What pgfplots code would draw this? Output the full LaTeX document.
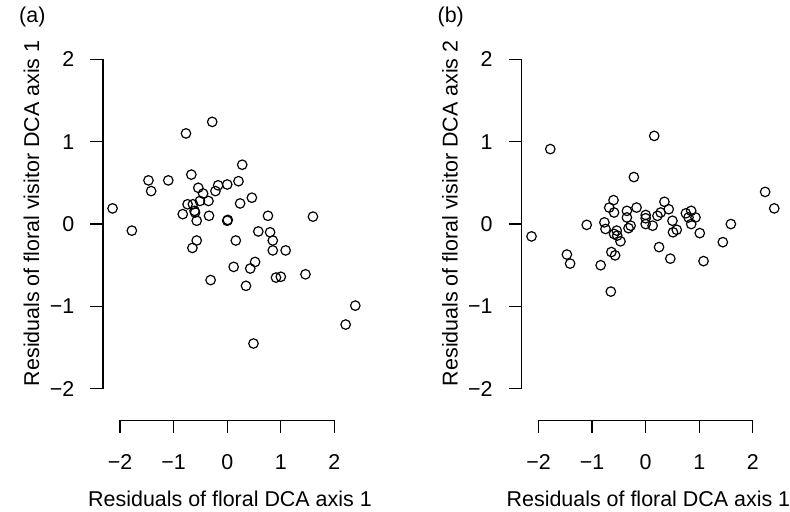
\documentclass[border=0pt]{standalone}
\usepackage{pgfplots}
\pgfplotsset{compat=1.18}
\usepackage{fontspec}
\setmainfont{Liberation Sans}
\begin{document}
\fontsize{10.8pt}{12.5pt}\selectfont
\pgfplotsset{
  rpanel/.style={
    scale only axis,
    width=132pt, height=208.35pt,
    xmin=-2.32, xmax=2.57, ymin=-2.38, ymax=2.64,
    axis x line*=bottom, axis y line*=left,
    axis line style={draw=none},
    tick align=outside,
    major tick length=6.35pt,
    tick style={black, line width=0.6pt},
    xtick={-2,-1,0,1,2}, ytick={-2,-1,0,1,2},
    xticklabels={−2,−1,0,1,2}, yticklabels={−2,−1,0,1,2},
    xticklabel style={yshift=-7.3pt},
    yticklabel style={xshift=-4.3pt},
    xlabel style={at={(axis description cs:0.485,-0.1913)}, anchor=center},
    ylabel style={at={(axis description cs:-0.2727,0.5)}, anchor=center, rotate=0},
    clip=false,
  },
  rmark/.style={only marks, mark=o, mark size=2.4pt, draw=black, mark options={draw=black, fill=none, line width=0.6pt}},
}
\begin{tikzpicture}[x=1pt,y=1pt]
\path[use as bounding box] (0,0) rectangle (395,257.5);
\begin{axis}[rpanel, at={(48.85pt,45.85pt)}, anchor=south west,
  xlabel={Residuals of floral DCA axis 1},
  ylabel={Residuals of floral visitor DCA axis 1}]
\draw[line width=0.6pt] (axis cs:-2,-2.38) -- (axis cs:2,-2.38);
\draw[line width=0.6pt] (axis cs:-2.32,-2) -- (axis cs:-2.32,2);
\node[anchor=west, inner sep=0pt] at (axis description cs:-0.321,0.975) {(a)};
\addplot[rmark] coordinates {
(-2.14,0.19) (-1.78,-0.08) (-1.47,0.53) (-1.42,0.40) (-1.10,0.53)
(-0.83,0.12) (-0.77,1.10) (-0.74,0.24) (-0.67,0.60) (-0.64,0.24)
(-0.65,-0.29) (-0.61,0.16) (-0.60,0.14) (-0.57,0.04) (-0.57,-0.20)
(-0.54,0.44) (-0.51,0.28) (-0.45,0.37) (-0.35,0.28) (-0.34,0.10)
(-0.31,-0.68) (-0.28,1.24) (-0.22,0.40) (-0.17,0.47) (0.00,0.48)
(0.00,0.04) (0.01,0.05) (0.12,-0.52) (0.16,-0.20) (0.21,0.52)
(0.24,0.25) (0.28,0.72) (0.35,-0.75) (0.43,-0.54) (0.46,0.32)
(0.49,-1.45) (0.52,-0.46) (0.58,-0.09) (0.76,0.10) (0.80,-0.10)
(0.85,-0.20) (0.85,-0.32) (0.91,-0.65) (1.00,-0.64) (1.09,-0.32)
(1.46,-0.61) (1.60,0.09) (2.21,-1.22) (2.39,-0.99)
};
\end{axis}
\begin{axis}[rpanel, at={(259.65pt,45.85pt)}, anchor=south west,
  xlabel={Residuals of floral DCA axis 1},
  ylabel={Residuals of floral visitor DCA axis 2}]
\draw[line width=0.6pt] (axis cs:-2,-2.38) -- (axis cs:2,-2.38);
\draw[line width=0.6pt] (axis cs:-2.32,-2) -- (axis cs:-2.32,2);
\node[anchor=west, inner sep=0pt] at (axis description cs:-0.321,0.975) {(b)};
\addplot[rmark] coordinates {
(-2.13,-0.15) (-1.78,0.91) (-1.47,-0.37) (-1.41,-0.48) (-1.10,-0.01)
(-0.84,-0.50) (-0.77,0.02) (-0.75,-0.06) (-0.68,0.20) (-0.65,-0.82)
(-0.64,-0.34) (-0.60,0.29) (-0.59,0.14) (-0.57,-0.38) (-0.59,-0.12)
(-0.54,-0.08) (-0.53,-0.14) (-0.47,-0.21) (-0.35,0.16) (-0.35,0.08)
(-0.32,-0.05) (-0.28,-0.02) (-0.22,0.57) (-0.17,0.20) (0.00,0.11)
(0.00,0.07) (0.00,0.00) (0.13,-0.02) (0.22,0.10) (0.25,-0.28)
(0.28,0.14) (0.16,1.07) (0.35,0.27) (0.43,0.18) (0.46,-0.42)
(0.50,0.04) (0.51,-0.10) (0.58,-0.07) (0.75,0.13) (0.80,0.08)
(0.85,0.16) (0.85,0.00) (0.93,0.08) (1.01,-0.11) (1.08,-0.45)
(1.44,-0.22) (1.59,0.00) (2.23,0.39) (2.40,0.19)
};
\end{axis}
\end{tikzpicture}
\end{document}
